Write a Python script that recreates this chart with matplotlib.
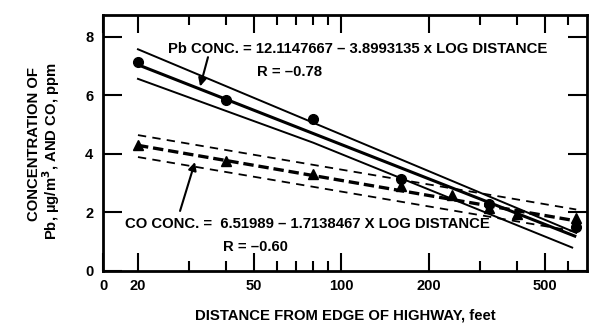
import matplotlib
matplotlib.use("Agg")
import matplotlib.pyplot as plt
import numpy as np

plt.rcParams['font.family'] = ['Liberation Sans', 'DejaVu Sans']
plt.rcParams['font.weight'] = 'bold'
plt.rcParams['mathtext.default'] = 'bf'
plt.rcParams['lines.scale_dashes'] = False

# ---- data ----
pb_dist = [20, 40, 80, 160, 320, 640]
pb_conc = [7.15, 5.83, 5.2, 3.15, 2.3, 1.5]
co_dist = [20, 40, 80, 160, 240, 320, 400, 640]
co_conc = [4.3, 3.75, 3.3, 2.9, 2.6, 2.15, 1.95, 1.8]

pb_a, pb_b = 12.1147667, 3.8993135
co_a, co_b = 6.51989, 1.7138467
fit_dist = [20, 640]

pb_upper_x = [20, 640]
pb_upper_y = [7.57, 1.3]
pb_lower_x = [20, 80, 620]
pb_lower_y = [6.56, 4.38, 0.8]
co_upper_x = [20, 640]
co_upper_y = [4.64, 2.1]
co_lower_x = [20, 640]
co_lower_y = [3.89, 1.35]

xtick_vals = [15.17, 20, 50, 100, 200, 500]
xtick_labels = ['0', '20', '50', '100', '200', '500']
xminor_vals = [30, 40, 60, 70, 80, 90, 300, 400, 600]
ytick_vals = [0, 2, 4, 6, 8]

FS = 10.7

fig = plt.figure(figsize=(5.95, 3.28), dpi=100)
ax = fig.add_axes([103/595, 57/328, 484/595, 256/328])
ax.set_xscale('log')
ax.set_xlim(15.17, 697)
ax.set_ylim(0, 8.74)

fx = np.array(fit_dist, dtype=float)
# Pb regression and bands
ax.plot(fx, pb_a - pb_b*np.log10(fx), color='black', lw=2.2, solid_capstyle='butt')
ax.plot(pb_upper_x, pb_upper_y, color='black', lw=1.4)
ax.plot(pb_lower_x, pb_lower_y, color='black', lw=1.4)
# CO regression and bands
ax.plot(fx, co_a - co_b*np.log10(fx), color='black', lw=2.4, dashes=(7.5, 3.5))
ax.plot(co_upper_x, co_upper_y, color='black', lw=1.3, dashes=(6, 4.5))
ax.plot(co_lower_x, co_lower_y, color='black', lw=1.3, dashes=(6, 4.5))

ax.plot(pb_dist, pb_conc, 'o', color='black', ms=7, zorder=5)
ax.plot(co_dist, co_conc, '^', color='black', ms=7, zorder=5)

# ticks
ax.set_xticks(xtick_vals)
ax.set_xticklabels(xtick_labels)
ax.set_xticks(xminor_vals, minor=True)
ax.xaxis.set_minor_formatter(matplotlib.ticker.NullFormatter())
ax.set_yticks(ytick_vals)
ax.tick_params(axis='x', which='major', direction='in', length=13, width=1.5,
               top=True, labelsize=10.5, pad=6)
ax.tick_params(axis='x', which='minor', direction='in', length=7, width=1.5, top=True)
ax.tick_params(axis='y', which='major', direction='in', length=14, width=1.5,
               right=True, labelsize=10.5, pad=7)
for lab in ax.get_xticklabels() + ax.get_yticklabels():
    lab.set_fontweight('bold')
for s in ax.spines.values():
    s.set_linewidth(2.0)

ax.set_xlabel('DISTANCE FROM EDGE OF HIGHWAY, feet', fontsize=FS, fontweight='bold', labelpad=11)
fig.text(34/595, 1 - 144/328, 'CONCENTRATION OF', rotation=90, ha='center', va='center',
         fontsize=FS, fontweight='bold')
fig.text(51/595, 1 - 151/328, r'Pb, µg/m$^{3}$, AND CO, ppm', rotation=90, ha='center',
         va='center', fontsize=FS, fontweight='bold')

# annotations
ax.text(25.4, 7.57, 'Pb CONC. = 12.1147667 \u2013 3.8993135 x LOG DISTANCE', fontsize=FS,
        fontweight='bold', ha='left', va='center')
ax.text(66.5, 6.8, 'R = \u20130.78', fontsize=FS, fontweight='bold', ha='center', va='center')
ax.annotate('', xy=(32.7, 6.3), xytext=(34.8, 7.3),
            arrowprops=dict(arrowstyle='-|>', color='black', lw=1.5, mutation_scale=12,
                            shrinkA=0, shrinkB=0))

ax.text(18.0, 1.6, 'CO CONC. =  6.51989 \u2013 1.7138467 X LOG DISTANCE', fontsize=FS,
        fontweight='bold', ha='left', va='center')
ax.text(50.5, 0.82, 'R = \u20130.60', fontsize=FS, fontweight='bold', ha='center', va='center')
ax.annotate('', xy=(31.4, 3.72), xytext=(27.9, 2.05),
            arrowprops=dict(arrowstyle='-|>', color='black', lw=1.5, mutation_scale=12,
                            shrinkA=0, shrinkB=0))

fig.savefig('out.png', dpi=100)
